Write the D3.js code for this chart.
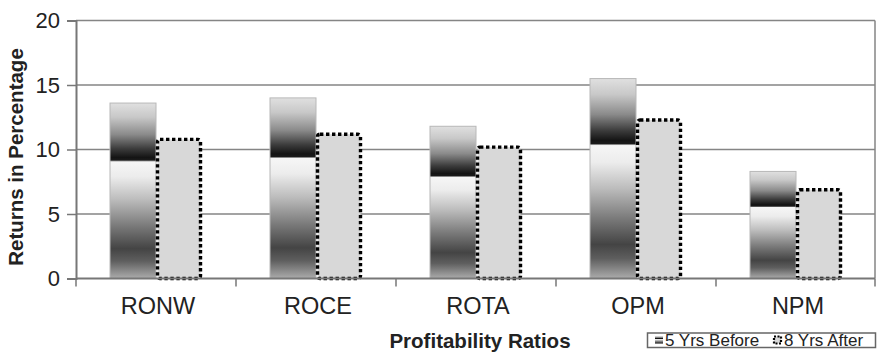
<!DOCTYPE html>
<html>
<head>
<meta charset="utf-8">
<script src="https://cdn.jsdelivr.net/npm/d3@7"></script>
<style>
  html, body { margin: 0; padding: 0; background: #fff; }
  svg { display: block; font-family: Arial, "Liberation Sans", sans-serif; }
</style>
</head>
<body>
<svg id="chart" width="877" height="352"></svg>
<script>
const categories = ["RONW", "ROCE", "ROTA", "OPM", "NPM"];
const seriesNames = ["5 Yrs Before", "8 Yrs After"];
const before = [13.6, 14.0, 11.8, 15.5, 8.3];
const after = [10.9, 11.3, 10.3, 12.4, 7.0];
const yTicks = [0, 5, 10, 15, 20];
const yTitle = "Returns in Percentage";
const xTitle = "Profitability Ratios";

const svg = d3.select("#chart");
const mLeft = 76, mRight = 876, mTop = 20.5, mBottom = 278.5;

const x0 = d3.scaleBand().domain(categories).range([mLeft, mRight]).padding(0);
const x1 = d3.scaleBand().domain(seriesNames).range([34, 126]).padding(0);
const y = d3.scaleLinear().domain([0, 20]).range([mBottom, mTop]);

// gradient for "before" bars
const defs = svg.append("defs");
const grad = defs.append("linearGradient").attr("id", "gBefore")
  .attr("x1", 0).attr("y1", 0).attr("x2", 0).attr("y2", 1);
[[0, "#e0e0e0"], [0.08, "#c8c8c8"], [0.18, "#8a8a8a"], [0.26, "#3c3c3c"], [0.31, "#141414"],
 [0.325, "#1a1a1a"], [0.335, "#f6f6f6"], [0.42, "#ececec"], [0.55, "#bcbcbc"],
 [0.7, "#7a7a7a"], [0.83, "#444444"], [0.9, "#5e5e5e"], [1, "#acacac"]]
  .forEach(([o, c]) => grad.append("stop").attr("offset", o).attr("stop-color", c));

// gridlines
svg.append("g").selectAll("line").data(yTicks.filter(d => d > 0)).join("line")
  .attr("x1", mLeft).attr("x2", 875).attr("y1", d => y(d)).attr("y2", d => y(d))
  .attr("stroke", "#858585").attr("stroke-width", 1.5);
// right border
svg.append("line").attr("x1", 875).attr("x2", 875).attr("y1", y(20)).attr("y2", y(0))
  .attr("stroke", "#858585").attr("stroke-width", 1.5);

// bars
const groups = svg.append("g").selectAll("g").data(categories).join("g")
  .attr("transform", d => `translate(${x0(d)},0)`);

groups.append("rect")
  .attr("x", x1(seriesNames[0]))
  .attr("width", x1.bandwidth())
  .attr("y", (d, i) => y(before[i]))
  .attr("height", (d, i) => y(0) - y(before[i]))
  .attr("fill", "url(#gBefore)")
  .attr("stroke", "#b8b8b8").attr("stroke-width", 1);

groups.append("rect")
  .attr("x", x1(seriesNames[1]) + 1.5)
  .attr("width", x1.bandwidth() - 3)
  .attr("y", (d, i) => y(after[i]) + 1.5)
  .attr("height", (d, i) => y(0) - y(after[i]) - 1.5)
  .attr("rx", 2.5)
  .attr("fill", "#d8d8d8")
  .attr("stroke", "#000").attr("stroke-width", 3.4)
  .attr("stroke-dasharray", "3.4,2.6");

// y axis
const yAxis = svg.append("g").attr("transform", `translate(${mLeft},0)`)
  .call(d3.axisLeft(y).tickValues(yTicks).tickSize(9).tickPadding(7));
yAxis.select(".domain").attr("stroke", "#777").attr("stroke-width", 2);
yAxis.selectAll(".tick line").attr("stroke", "#777").attr("stroke-width", 1.5);
yAxis.selectAll(".tick text").attr("font-size", 22).attr("fill", "#222")
  .attr("font-family", "Arial, 'Liberation Sans', sans-serif");

// x axis
svg.append("line").attr("x1", mLeft).attr("x2", 875).attr("y1", y(0)).attr("y2", y(0))
  .attr("stroke", "#777").attr("stroke-width", 2);
svg.append("g").selectAll("line").data(categories.map(c => x0(c)).concat([mRight - 1])).join("line")
  .attr("x1", d => d).attr("x2", d => d).attr("y1", y(0)).attr("y2", y(0) + 8)
  .attr("stroke", "#777").attr("stroke-width", 1.5);
svg.append("g").selectAll("text").data(categories).join("text")
  .attr("x", d => x0(d) + x0.bandwidth() / 2 + 2)
  .attr("y", 314)
  .attr("text-anchor", "middle")
  .attr("font-size", 23.5).attr("fill", "#222")
  .text(d => d);

// titles
svg.append("text").attr("x", 480).attr("y", 348).attr("text-anchor", "middle")
  .attr("font-size", 20.5).attr("font-weight", "bold").attr("fill", "#222").text(xTitle);
svg.append("text").attr("transform", "translate(23,157) rotate(-90)").attr("text-anchor", "middle")
  .attr("font-size", 20.5).attr("font-weight", "bold").attr("fill", "#222").text(yTitle);

// legend
const lg = svg.append("g");
lg.append("rect").attr("x", 647.5).attr("y", 333).attr("width", 228).attr("height", 14.5)
  .attr("fill", "#fff").attr("stroke", "#666").attr("stroke-width", 1.5);
lg.append("rect").attr("x", 655).attr("y", 336).attr("width", 8).attr("height", 8)
  .attr("fill", "url(#gBefore)");
lg.append("text").attr("x", 665).attr("y", 346).attr("font-size", 17).attr("fill", "#222")
  .text(seriesNames[0]);
lg.append("rect").attr("x", 774).attr("y", 336.5).attr("width", 7).attr("height", 7)
  .attr("fill", "#d8d8d8").attr("stroke", "#000").attr("stroke-width", 2.2).attr("stroke-dasharray", "2,1.5");
lg.append("text").attr("x", 784).attr("y", 346).attr("font-size", 17).attr("fill", "#222")
  .text(seriesNames[1]);
</script>
</body>
</html>
